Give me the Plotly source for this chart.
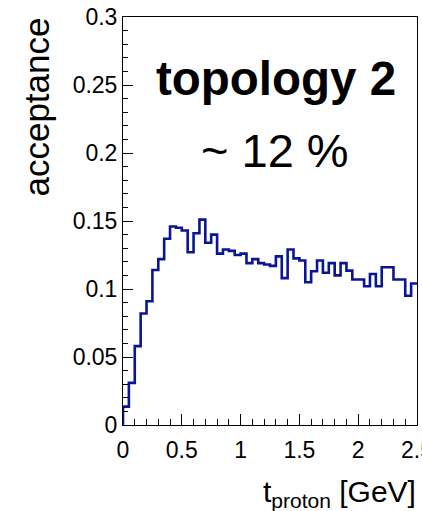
import plotly.graph_objects as go

# histogram: 50 bins of width 0.05 from 0 to 2.5
bin_lo = 0.0
bin_width = 0.05
acceptance = [
    0.0135, 0.031, 0.058, 0.082, 0.091, 0.114, 0.122, 0.137, 0.146, 0.145,
    0.143, 0.127, 0.141, 0.151, 0.134, 0.140, 0.126, 0.129, 0.128, 0.125,
    0.126, 0.119, 0.122, 0.119, 0.118, 0.117, 0.124, 0.108, 0.129, 0.1225,
    0.121, 0.105, 0.113, 0.121, 0.112, 0.119, 0.110, 0.119, 0.1135, 0.107,
    0.107, 0.102, 0.111, 0.102, 0.116, 0.116, 0.107, 0.107, 0.095, 0.104,
]
x_ticks = [0, 0.5, 1, 1.5, 2, 2.5]
y_ticks = [0, 0.05, 0.1, 0.15, 0.2, 0.25, 0.3]
label_main = "<b>topology 2</b>"
label_sub = "~ 12 %"
x_title = "t<sub>proton</sub> [GeV]"
y_title = "acceptance"

n = len(acceptance)
edges = [bin_lo + bin_width * i for i in range(n + 1)]
xs = [edges[0]] + edges
ys = [0.0] + acceptance + [acceptance[-1]]

FONT = "Liberation Sans, Arial, Helvetica, sans-serif"

fig = go.Figure()
fig.add_trace(go.Scatter(
    x=xs, y=ys, mode="lines", line=dict(color="#0a1596", width=2.6, shape="hv"),
    hoverinfo="skip", showlegend=False, cliponaxis=False,
))

axis_common = dict(
    showline=True, linecolor="black", linewidth=1, mirror=True,
    ticks="inside", tickcolor="black", tickwidth=1.2,
    showgrid=False, zeroline=False, layer="above traces",
    tickfont=dict(family=FONT, size=23, color="black"),
    ticklabeloverflow="allow", automargin=False,
)

fig.update_xaxes(
    range=[0, 2.5], tickmode="array", tickvals=x_ticks, ticklen=11,
    minor=dict(ticks="inside", ticklen=6, tickmode="linear", tick0=0, dtick=0.1,
               tickcolor="black", tickwidth=1.2, showgrid=False),
    ticklabelstandoff=4,
    **axis_common,
)
fig.update_yaxes(
    range=[0, 0.3], tickmode="array", tickvals=y_ticks, ticklen=10,
    minor=dict(ticks="inside", ticklen=5, tickmode="linear", tick0=0, dtick=0.01,
               tickcolor="black", tickwidth=1.2, showgrid=False),
    ticklabelstandoff=0,
    **axis_common,
)

fig.add_annotation(x=1.3, y=0.255, xref="x", yref="y", text=label_main, showarrow=False,
                   font=dict(family=FONT, size=47.5, color="black"), xanchor="center", yanchor="middle")
fig.add_annotation(x=1.29, y=0.2015, xref="x", yref="y", text=label_sub, showarrow=False,
                   font=dict(family=FONT, size=47, color="black"), xanchor="center", yanchor="middle")
fig.add_annotation(x=-0.295, y=1.003, xref="paper", yref="paper", text=y_title, showarrow=False,
                   textangle=-90, font=dict(family=FONT, size=35, color="black"),
                   xanchor="center", yanchor="top")
fig.add_annotation(x=1.005, y=-0.218, xref="paper", yref="paper", text=x_title, showarrow=False,
                   font=dict(family=FONT, size=30, color="black"),
                   xanchor="right", yanchor="bottom")

fig.update_layout(
    width=422, height=511,
    margin=dict(l=123, r=5, t=17, b=86, autoexpand=False),
    paper_bgcolor="white", plot_bgcolor="white",
    font=dict(family=FONT),
)

fig.write_html("out.html")
